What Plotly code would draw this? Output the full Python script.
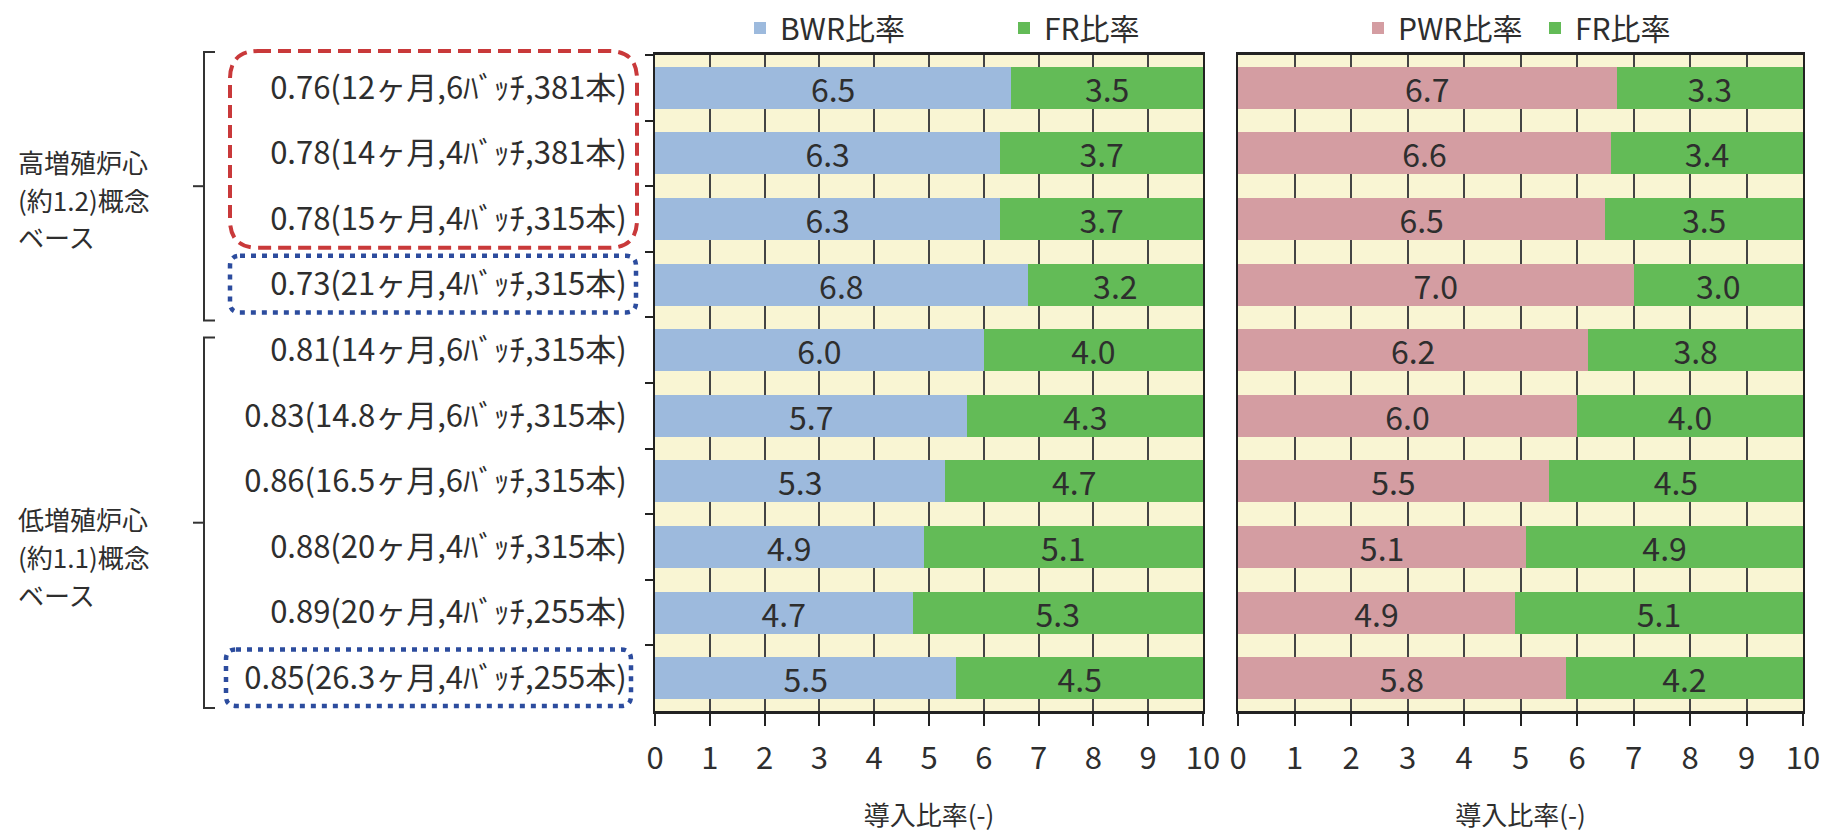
import plotly.graph_objects as go

# ---- data -------------------------------------------------------------
cases = [
    "0.76(12ヶ月,6ﾊﾞｯﾁ,381本)",
    "0.78(14ヶ月,4ﾊﾞｯﾁ,381本)",
    "0.78(15ヶ月,4ﾊﾞｯﾁ,315本)",
    "0.73(21ヶ月,4ﾊﾞｯﾁ,315本)",
    "0.81(14ヶ月,6ﾊﾞｯﾁ,315本)",
    "0.83(14.8ヶ月,6ﾊﾞｯﾁ,315本)",
    "0.86(16.5ヶ月,6ﾊﾞｯﾁ,315本)",
    "0.88(20ヶ月,4ﾊﾞｯﾁ,315本)",
    "0.89(20ヶ月,4ﾊﾞｯﾁ,255本)",
    "0.85(26.3ヶ月,4ﾊﾞｯﾁ,255本)",
]
bwr_ratio = [6.5, 6.3, 6.3, 6.8, 6.0, 5.7, 5.3, 4.9, 4.7, 5.5]
fr_ratio_bwr = [3.5, 3.7, 3.7, 3.2, 4.0, 4.3, 4.7, 5.1, 5.3, 4.5]
pwr_ratio = [6.7, 6.6, 6.5, 7.0, 6.2, 6.0, 5.5, 5.1, 4.9, 5.8]
fr_ratio_pwr = [3.3, 3.4, 3.5, 3.0, 3.8, 4.0, 4.5, 4.9, 5.1, 4.2]
x_ticks = list(range(0, 11))

group_lines = [
    ["高増殖炉心", "(約1.2)概念", "ベース"],
    ["低増殖炉心", "(約1.1)概念", "ベース"],
]
group_rows = [(0, 3), (4, 9)]          # first / last case index of each group
red_box_rows = (0, 2)
blue_box_rows = [(3, 3), (9, 9)]

# ---- layout constants (pixels) ----------------------------------------
W, H = 1832, 832
L_X0, L_X1 = 655, 1203
R_X0, R_X1 = 1238, 1803
Y_TOP, Y_BOT = 55, 711

FONT = "Noto Sans CJK JP"
TXT = "#2E2E2E"
BLUE = "#9DBADD"
GREEN = "#63BB57"
PINK = "#D49DA2"
CREAM = "#F9F5D3"
GRID = "#444444"
AXIS = "#222222"

n = len(cases)
band = (Y_BOT - Y_TOP) / n


def px_x(p):
    return p / W


def px_y(p):
    return 1 - p / H


def row_edge(k):
    """pixel y of the boundary above row k (k may equal n)."""
    return Y_TOP + band * k


def bar_trace(vals, name, color, xa, ya, legend):
    return go.Bar(
        y=cases, x=vals, orientation="h", name=name,
        marker=dict(color=color, line=dict(width=0)),
        text=[f"{v:.1f}" for v in vals],
        textposition="inside", insidetextanchor="middle", textangle=0,
        constraintext="none",
        textfont=dict(family=FONT, size=32, color=TXT),
        xaxis=xa, yaxis=ya, legend=legend, hoverinfo="skip",
    )


fig = go.Figure()
fig.add_trace(bar_trace(bwr_ratio, "BWR比率", BLUE, "x", "y", "legend"))
fig.add_trace(bar_trace(fr_ratio_bwr, "FR比率", GREEN, "x", "y", "legend"))
fig.add_trace(bar_trace(pwr_ratio, "PWR比率", PINK, "x2", "y2", "legend2"))
fig.add_trace(bar_trace(fr_ratio_pwr, "FR比率", GREEN, "x2", "y2", "legend2"))

xaxis_common = dict(
    range=[0, 10], tickvals=x_ticks, ticktext=[str(t) for t in x_ticks],
    showgrid=True, gridcolor=GRID, gridwidth=2,
    showline=True, linecolor=AXIS, linewidth=2.5, mirror=True,
    ticks="outside", ticklen=12, tickwidth=2, tickcolor=AXIS,
    ticklabelstandoff=6,
    tickfont=dict(family=FONT, size=31, color=TXT),
    title=dict(text="導入比率(-)", font=dict(family=FONT, size=26, color=TXT), standoff=32),
    zeroline=False, fixedrange=True, automargin=False,
)
yaxis_common = dict(
    type="category", categoryorder="array", categoryarray=cases,
    range=[n - 0.5, -0.5], domain=[px_y(Y_BOT), px_y(Y_TOP)],
    showgrid=False, zeroline=False,
    showline=True, linecolor=AXIS, linewidth=2, mirror=True,
    fixedrange=True, automargin=False,
)

fig.update_layout(
    template="none",
    width=W, height=H,
    margin=dict(l=0, r=0, t=0, b=0, pad=0),
    paper_bgcolor="white", plot_bgcolor=CREAM,
    font=dict(family=FONT, color=TXT),
    barmode="stack", bargap=0.36,
    hovermode=False,
    xaxis=dict(domain=[px_x(L_X0), px_x(L_X1)], anchor="y", **xaxis_common),
    xaxis2=dict(domain=[px_x(R_X0), px_x(R_X1)], anchor="y2", **xaxis_common),
    yaxis=dict(anchor="x", ticks="outside", tickson="boundaries", ticklen=8,
               tickwidth=2, tickcolor=AXIS, ticklabelstandoff=20,
               tickfont=dict(family=FONT, size=31, color=TXT), **yaxis_common),
    yaxis2=dict(anchor="x2", showticklabels=False, ticks="", **yaxis_common),
    legend=dict(orientation="h", x=px_x(740), y=px_y(28), xanchor="left", yanchor="middle",
                entrywidth=219, font=dict(family=FONT, size=30, color=TXT),
                bgcolor="rgba(0,0,0,0)", borderwidth=0, traceorder="normal"),
    legend2=dict(orientation="h", x=px_x(1358), y=px_y(28), xanchor="left", yanchor="middle",
                 entrywidth=132, font=dict(family=FONT, size=30, color=TXT),
                 bgcolor="rgba(0,0,0,0)", borderwidth=0, traceorder="normal"),
    showlegend=True,
)

# ---- group brackets on the far left -----------------------------------
shapes = []
bracket_x, serif, mid_tick = 204, 11, 11
bracket_pad = [(-3, 3), (20, -3)]     # (top, bottom) offsets from the row edges
for (r0, r1), (pt, pb) in zip(group_rows, bracket_pad):
    top = row_edge(r0) + pt
    bot = row_edge(r1 + 1) + pb
    mid = (top + bot) / 2
    path = (f"M{px_x(bracket_x + serif)},{px_y(top)} L{px_x(bracket_x)},{px_y(top)} "
            f"L{px_x(bracket_x)},{px_y(bot)} L{px_x(bracket_x + serif)},{px_y(bot)}")
    shapes.append(dict(type="path", xref="paper", yref="paper", path=path,
                       line=dict(color="#333333", width=2)))
    shapes.append(dict(type="line", xref="paper", yref="paper",
                       x0=px_x(bracket_x - mid_tick), x1=px_x(bracket_x),
                       y0=px_y(mid), y1=px_y(mid), line=dict(color="#333333", width=2)))


def rounded_rect(x0, y0, x1, y1, r):
    X, Y = px_x, px_y
    return (f"M{X(x0 + r)},{Y(y0)} L{X(x1 - r)},{Y(y0)} Q{X(x1)},{Y(y0)} {X(x1)},{Y(y0 + r)} "
            f"L{X(x1)},{Y(y1 - r)} Q{X(x1)},{Y(y1)} {X(x1 - r)},{Y(y1)} "
            f"L{X(x0 + r)},{Y(y1)} Q{X(x0)},{Y(y1)} {X(x0)},{Y(y1 - r)} "
            f"L{X(x0)},{Y(y0 + r)} Q{X(x0)},{Y(y0)} {X(x0 + r)},{Y(y0)} Z")


# red dashed frame around the first three cases
r0, r1 = red_box_rows
shapes.append(dict(type="path", xref="paper", yref="paper",
                   path=rounded_rect(230, row_edge(r0) - 4, 637, row_edge(r1 + 1) - 4, 28),
                   line=dict(color="#C9393A", width=4, dash="13px,7px")))
# blue dotted frames
for (b0, b1), (xl, xr) in zip(blue_box_rows, [(230, 636), (226, 631)]):
    shapes.append(dict(type="path", xref="paper", yref="paper",
                       path=rounded_rect(xl, row_edge(b0) + 4, xr, row_edge(b1 + 1) - 5, 10),
                       line=dict(color="#2C4C9E", width=4.5, dash="5px,6px")))

fig.update_layout(shapes=shapes)

# ---- group labels: three stacked lines per group -----------------------
label_center_y = [199, 556]
line_pitch = 38
for lines, yc in zip(group_lines, label_center_y):
    for k, txt in enumerate(lines):
        yy = yc + (k - 1) * line_pitch
        fig.add_annotation(text=txt, xref="paper", yref="paper",
                           x=px_x(16), y=px_y(yy), xanchor="left", yanchor="middle",
                           showarrow=False,
                           font=dict(family=FONT, size=26, color=TXT))

fig.write_html("out.html")
